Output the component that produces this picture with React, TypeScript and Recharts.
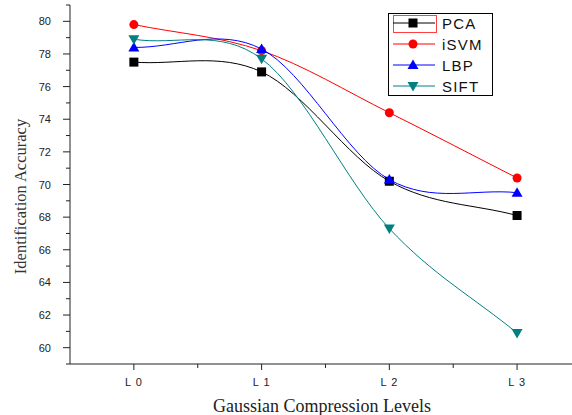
import React from "react";
import { LineChart, Line, XAxis, YAxis } from "recharts";

// --- Data ---
const levels = [0, 1, 2, 3];
const levelLabels = ["L 0", "L 1", "L 2", "L 3"];
const pca = [77.5, 76.9, 70.2, 68.1];
const isvm = [79.8, 78.2, 74.4, 70.4];
const lbp = [78.4, 78.3, 70.3, 69.5];
const sift = [78.9, 77.7, 67.3, 60.9];

const xTicks = [0, 0.5, 1, 1.5, 2, 2.5, 3];
const yTicks = [59, 60, 61, 62, 63, 64, 65, 66, 67, 68, 69, 70, 71, 72, 73, 74, 75, 76, 77, 78, 79, 80, 81];

const series = [
  { key: "pca", name: "PCA", color: "#000000", shape: "square" },
  { key: "isvm", name: "iSVM", color: "#ff0000", shape: "circle" },
  { key: "lbp", name: "LBP", color: "#0000ff", shape: "up" },
  { key: "sift", name: "SIFT", color: "#008080", shape: "down" },
];

const data = levels.map((x, i) => ({
  x,
  pca: pca[i],
  isvm: isvm[i],
  lbp: lbp[i],
  sift: sift[i],
}));

// Catmull-Rom style spline (one-sided tangents at the ends), like Origin's spline
const splineCurve = (context: any) => {
  let pts: [number, number][] = [];
  return {
    areaStart() {},
    areaEnd() {},
    lineStart() {
      pts = [];
    },
    point(x: number, y: number) {
      pts.push([+x, +y]);
    },
    lineEnd() {
      const n = pts.length;
      if (!n) return;
      context.moveTo(pts[0][0], pts[0][1]);
      if (n === 1) return;
      const m = pts.map((p, i) => {
        if (i === 0) return [pts[1][0] - p[0], pts[1][1] - p[1]];
        if (i === n - 1) return [p[0] - pts[i - 1][0], p[1] - pts[i - 1][1]];
        return [(pts[i + 1][0] - pts[i - 1][0]) / 2, (pts[i + 1][1] - pts[i - 1][1]) / 2];
      });
      for (let i = 0; i < n - 1; i++) {
        const a = pts[i];
        const b = pts[i + 1];
        context.bezierCurveTo(
          a[0] + m[i][0] / 3,
          a[1] + m[i][1] / 3,
          b[0] - m[i + 1][0] / 3,
          b[1] - m[i + 1][1] / 3,
          b[0],
          b[1]
        );
      }
    },
  };
};

// --- marker helpers ---
function Marker({ cx, cy, shape, color }: { cx: number; cy: number; shape: string; color: string }) {
  if (shape === "square") {
    return <rect x={cx - 4.5} y={cy - 4.5} width={9} height={9} fill={color} />;
  }
  if (shape === "circle") {
    return <circle cx={cx} cy={cy} r={4.5} fill={color} />;
  }
  if (shape === "up") {
    return <path d={`M${cx},${cy - 5.5} L${cx + 5.5},${cy + 4} L${cx - 5.5},${cy + 4} Z`} fill={color} />;
  }
  return <path d={`M${cx},${cy + 5.5} L${cx + 5.5},${cy - 4} L${cx - 5.5},${cy - 4} Z`} fill={color} />;
}

const makeDot = (shape: string, color: string) => (props: any) => {
  const { cx, cy, index } = props;
  if (cx == null || cy == null) return <g key={`d-${index}`} />;
  return (
    <g key={`d-${shape}-${index}`}>
      <Marker cx={cx} cy={cy} shape={shape} color={color} />
    </g>
  );
};

// custom ticks with minor marks
const XTick = (props: any) => {
  const { x, y, payload } = props;
  const v = payload.value;
  const major = Number.isInteger(v);
  return (
    <g>
      <line x1={x} y1={y} x2={x} y2={y + (major ? 6 : 4)} stroke="#222" strokeWidth={1} />
      {major && (
        <text x={x} y={y + 22} textAnchor="middle" fontSize={11} letterSpacing={1} fill="#222"
          fontFamily="'Liberation Sans', Arial, sans-serif">
          {levelLabels[v]}
        </text>
      )}
    </g>
  );
};

const YTick = (props: any) => {
  const { x, y, payload } = props;
  const v = payload.value;
  const major = v % 2 === 0;
  return (
    <g>
      <line x1={x} y1={y} x2={x - (major ? 7 : 4)} y2={y} stroke="#222" strokeWidth={1} />
      {major && (
        <text x={x - 19} y={y + 4} textAnchor="end" fontSize={11} fill="#222"
          fontFamily="'Liberation Sans', Arial, sans-serif">
          {v}
        </text>
      )}
    </g>
  );
};

function LegendBox() {
  return (
    <svg width={105} height={83} style={{ position: "absolute", left: 388, top: 13, display: "block" }}>
      <rect x={0.5} y={0.5} width={104} height={82} fill="#fff" stroke="#000" strokeWidth={1} />
      {series.map((s, i) => {
        const cy = 10 + i * 21;
        return (
          <g key={s.key}>
            {i === 0 && <rect x={5.5} y={cy - 7.5} width={43} height={17} fill="none" stroke="#ff4040" strokeWidth={1} />}
            <line x1={5} y1={cy} x2={47} y2={cy} stroke={s.color} strokeWidth={1} />
            <Marker cx={25} cy={cy} shape={s.shape} color={s.color} />
            <text x={54} y={cy + 5.5} fontSize={15} letterSpacing={1.2} fill="#111"
              fontFamily="'Liberation Sans', Arial, sans-serif">
              {s.name}
            </text>
          </g>
        );
      })}
    </svg>
  );
}

export default function App() {
  return (
    <div style={{ position: "absolute", left: 0, top: 0, width: 572, height: 415, background: "#fff" }}>
      <LineChart width={572} height={415} data={data} margin={{ top: 5, right: 0, bottom: 0, left: 0 }}>
        <XAxis
          dataKey="x"
          type="number"
          domain={[-0.5, 3.43]}
          ticks={xTicks}
          interval={0}
          allowDataOverflow
          height={51}
          tickSize={0}
          tickMargin={0}
          tick={<XTick />}
          axisLine={{ stroke: "#222" }}
          label={{
            content: (p: any) => {
              const vb = p.viewBox;
              return (
                <text x={vb.x + vb.width / 2 + 1} y={vb.y + 48} textAnchor="middle" fontSize={18} fill="#222"
                  fontFamily="'Liberation Serif', 'Times New Roman', serif">
                  Gaussian Compression Levels
                </text>
              );
            },
          }}
        />
        <YAxis
          type="number"
          domain={[59, 81]}
          ticks={yTicks}
          interval={0}
          allowDataOverflow
          width={70}
          tickSize={0}
          tickMargin={0}
          tick={<YTick />}
          axisLine={{ stroke: "#222" }}
          label={{
            content: (p: any) => {
              const vb = p.viewBox;
              const cx = vb.x + 26;
              const cy = vb.y + vb.height / 2 + 12;
              return (
                <text x={cx} y={cy} textAnchor="middle" fontSize={16.5} fill="#333"
                  transform={`rotate(-90 ${cx} ${cy})`}
                  fontFamily="'Liberation Serif', 'Times New Roman', serif">
                  Identification Accuracy
                </text>
              );
            },
          }}
        />
        {series.map((s) => (
          <Line
            key={s.key}
            type={splineCurve as any}
            dataKey={s.key}
            name={s.name}
            stroke={s.color}
            strokeWidth={1}
            dot={makeDot(s.shape, s.color)}
            activeDot={false}
            isAnimationActive={false}
          />
        ))}
      </LineChart>
      <LegendBox />
    </div>
  );
}
